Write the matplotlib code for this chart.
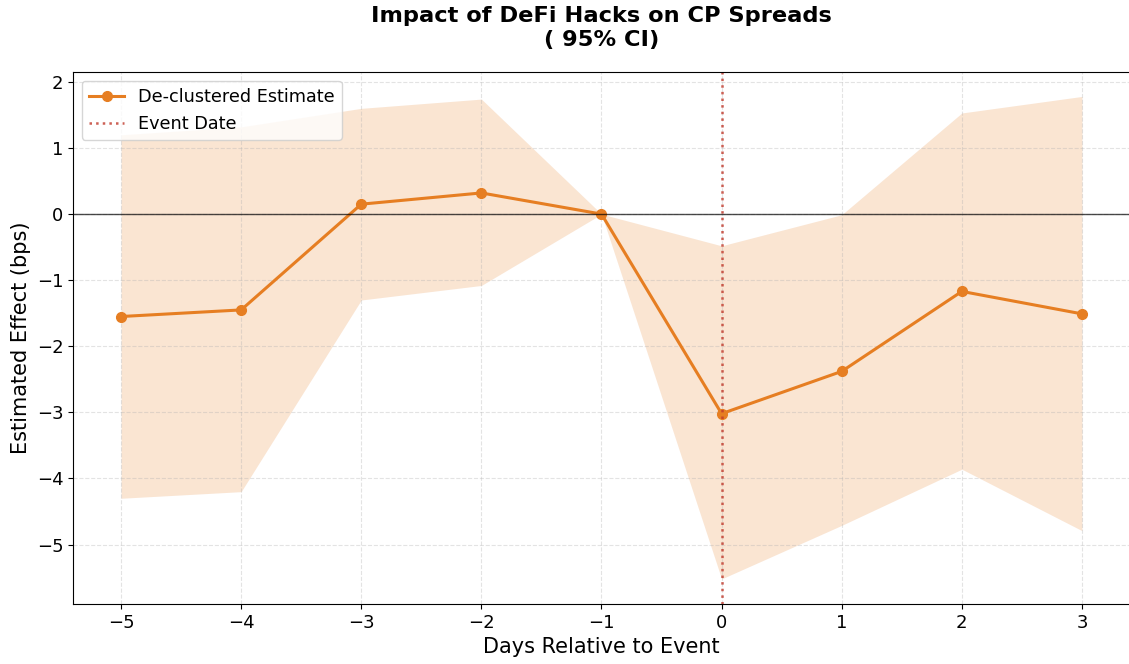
import matplotlib
matplotlib.use("Agg")
import matplotlib.pyplot as plt
import numpy as np

days = [-5, -4, -3, -2, -1, 0, 1, 2, 3]
estimate = [-1.55, -1.45, 0.15, 0.32, 0.0, -3.02, -2.38, -1.17, -1.51]
ci_low = [-4.30, -4.20, -1.30, -1.08, 0.0, -5.52, -4.71, -3.86, -4.79]
ci_high = [1.20, 1.32, 1.60, 1.74, 0.0, -0.48, -0.01, 1.53, 1.78]

orange = "#e67e22"

fig = plt.figure(figsize=(11.29, 6.64), dpi=100)
ax = fig.add_axes([73 / 1129, 60 / 664, 1057 / 1129, 532 / 664])

ax.fill_between(days, ci_low, ci_high, color=orange, alpha=0.2, linewidth=0)
ax.plot(days, estimate, color=orange, marker="o", markersize=7, linewidth=2.2,
        label="De-clustered Estimate")
ax.axhline(0, color="black", linewidth=1, alpha=0.7)
ax.axvline(0, color="#c0392b", linestyle=":", linewidth=1.8, alpha=0.8, label="Event Date")

ax.set_xlim(-5.4, 3.4)
ax.set_ylim(-5.9, 2.15)
ax.set_xticks(days)
ax.grid(True, linestyle="--", alpha=0.35)
ax.tick_params(labelsize=13)

ax.set_xlabel("Days Relative to Event", fontsize=15)
ax.set_ylabel("Estimated Effect (bps)", fontsize=15)
ax.set_title("Impact of DeFi Hacks on CP Spreads\n( 95% CI)", fontsize=16.2,
             fontweight="bold", pad=19)
ax.legend(loc="upper left", fontsize=12.7)

fig.savefig("out.png", dpi=100)
